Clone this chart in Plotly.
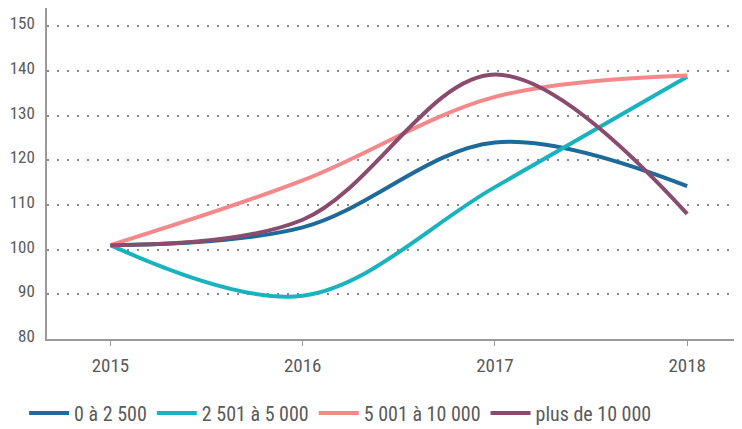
import plotly.graph_objects as go

years = ["2015", "2016", "2017", "2018"]
s1_name = "0 à 2 500"
s1 = [101, 105, 124, 114.2]
s2_name = "2 501 à 5 000"
s2 = [101, 89.7, 114, 138.7]
s3_name = "5 001 à 10 000"
s3 = [101, 115.5, 134.2, 139]
s4_name = "plus de 10 000"
s4 = [101, 106.7, 139.2, 108]
yticks = [80, 90, 100, 110, 120, 130, 140, 150]

colors = ["#1d6a9b", "#19b2bf", "#f4888b", "#8b4b6c"]
font_family = "Roboto Condensed, Roboto, sans-serif"
text_color = "#5a5a5a"

fig = go.Figure()
for name, vals, c in zip([s1_name, s2_name, s3_name, s4_name], [s1, s2, s3, s4], colors):
    fig.add_trace(go.Scatter(
        x=list(range(len(years))), y=vals, name=name, mode="lines",
        line=dict(color=c, width=4, shape="spline", smoothing=1.0),
    ))

# the page body adds an 8px offset, so the figure is sized to the visible area
fig.update_layout(
    width=734, height=421,
    margin=dict(l=39, r=1, t=0, b=90, autoexpand=False),
    plot_bgcolor="white", paper_bgcolor="white",
    font=dict(family=font_family, size=19, color=text_color),
    showlegend=True,
    legend=dict(orientation="h", x=-0.033, xanchor="left", y=-0.165, yanchor="top",
                font=dict(family=font_family, size=20, color=text_color),
                itemwidth=40, tracegroupgap=0),
    xaxis=dict(
        tickmode="array", tickvals=list(range(len(years))), ticktext=years,
        range=[-0.33, 3.28], showgrid=False, zeroline=False,
        showline=True, linecolor="#9a9a9a", linewidth=1.5,
        ticks="outside", ticklen=5, tickcolor="#9a9a9a", tickwidth=1,
        tickfont=dict(family=font_family, size=19, color=text_color),
        ticklabelstandoff=3, automargin=False,
    ),
    yaxis=dict(
        range=[80, 154.1], tickvals=yticks, showgrid=True,
        gridcolor="#888888", griddash="2px,8px", gridwidth=1.5,
        zeroline=False, showline=True, linecolor="#9a9a9a", linewidth=1.5,
        ticks="", ticklabelstandoff=7, ticklabelshift=-3, automargin=False,
        tickfont=dict(family=font_family, size=17, color=text_color),
    ),
)

fig.write_html("out.html")
